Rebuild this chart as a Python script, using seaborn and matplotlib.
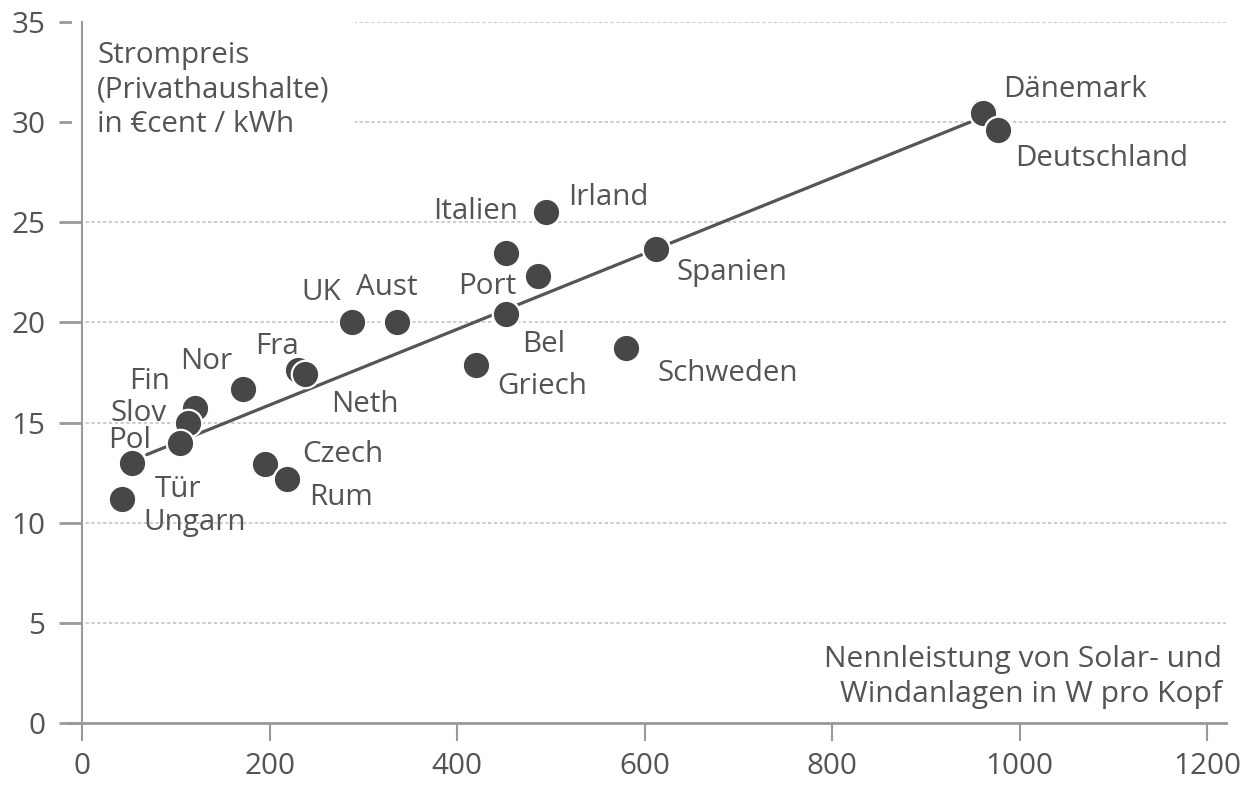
import matplotlib
matplotlib.use("Agg")
import matplotlib.pyplot as plt
import seaborn as sns
import pandas as pd

# ---- data ----
countries = ["Dänemark", "Deutschland", "Irland", "Italien", "Port", "Spanien",
             "Bel", "Griech", "Schweden", "UK", "Aust", "Fra", "Neth", "Nor",
             "Fin", "Slov", "Pol", "Tür", "Ungarn", "Czech", "Rum"]
capacity_w = [961, 977, 495, 452, 486, 612,
              452, 420, 580, 288, 336, 230, 238, 172,
              120.5, 113, 104.5, 53, 43, 195, 219]
price_ct = [30.45, 29.6, 25.5, 23.45, 22.3, 23.65,
            20.4, 17.85, 18.7, 20.0, 20.0, 17.6, 17.45, 16.7,
            15.75, 15.0, 14.0, 13.0, 11.2, 12.95, 12.2]

# label anchor (left/baseline) in data units
label_x = [982, 995, 518, 374, 401, 634,
           469, 443, 614, 234, 292, 184.5, 265.6, 104.5,
           50, 30, 27.7, 77.9, 65, 234.7, 242]
label_y = [31.25, 27.8, 25.85, 25.15, 21.4, 22.1,
           18.5, 16.45, 17.1, 21.1, 21.35, 18.4, 15.55, 17.65,
           16.7, 15.1, 13.75, 11.3, 9.65, 13.05, 10.9]

trend_x = [69, 947]
trend_y = [13.4, 30.0]

x_ticks = [0, 200, 400, 600, 800, 1000, 1200]
y_ticks = [0, 5, 10, 15, 20, 25, 30, 35]

y_title = "Strompreis\n(Privathaushalte)\nin €cent / kWh"
x_title = "Nennleistung von Solar- und\nWindanlagen in W pro Kopf"

# ---- style ----
sns.set_theme(style="white")
plt.rcParams["font.family"] = ["Open Sans", "DejaVu Sans"]
TXT = "#545454"
DOT = "#474747"
AX = "#9a9a9a"
FS = 21.3

df = pd.DataFrame({"country": countries, "x": capacity_w, "y": price_ct})
trend = pd.DataFrame({"x": trend_x, "y": trend_y})

fig = plt.figure(figsize=(12.47, 7.87), dpi=100)
ax = fig.add_axes([68 / 1247, 1 - 723 / 787, (1226 - 68) / 1247, (723 - 22) / 787])

sns.lineplot(data=trend, x="x", y="y", ax=ax, color="#555555", linewidth=2.3,
             zorder=3)
sns.scatterplot(data=df, x="x", y="y", ax=ax, s=390, color=DOT,
                edgecolor="white", linewidth=1.6, zorder=4, legend=False)

for name, lx, ly in zip(countries, label_x, label_y):
    ax.text(lx, ly, name, fontsize=FS, color=TXT, ha="left", va="baseline",
            zorder=5)

ax.set_xlim(-15, 1220)
ax.set_ylim(0, 35)
ax.set_xticks(x_ticks)
ax.set_yticks(y_ticks)
ax.set_xticklabels([str(v) for v in x_ticks])
ax.set_yticklabels([str(v) for v in y_ticks])
ax.set_xlabel("")
ax.set_ylabel("")

ax.set_axisbelow(True)
ax.yaxis.grid(True, color="#c4c4c4", linestyle=(0, (2, 1.5)), linewidth=1.2)
ax.xaxis.grid(False)
for sp in ["top", "right"]:
    ax.spines[sp].set_visible(False)
ax.spines["left"].set_position(("data", 0))
ax.spines["left"].set_bounds(0, 35)
ax.spines["left"].set_color(AX)
ax.spines["left"].set_linewidth(1.5)
ax.spines["bottom"].set_color(AX)
ax.spines["bottom"].set_linewidth(2)
ax.spines["bottom"].set_zorder(3)

ax.tick_params(axis="y", direction="out", length=16.5, width=2, color=AX,
               pad=10, labelsize=FS, labelcolor=TXT, left=True)
ax.tick_params(axis="x", direction="out", length=13, width=1.5, color=AX,
               pad=8, labelsize=FS, labelcolor=TXT, bottom=True)

ax.text(16, 34.05, y_title, fontsize=FS, color=TXT, ha="left", va="top",
        linespacing=1.25, zorder=1.5,
        bbox=dict(boxstyle="square,pad=0.85", facecolor="white",
                  edgecolor="none"))
ax.text(1216, 2.3, x_title, fontsize=FS + 0.3, color=TXT, ha="right",
        va="center", linespacing=1.3, zorder=5)

fig.savefig("out.png", dpi=100, facecolor="white")
